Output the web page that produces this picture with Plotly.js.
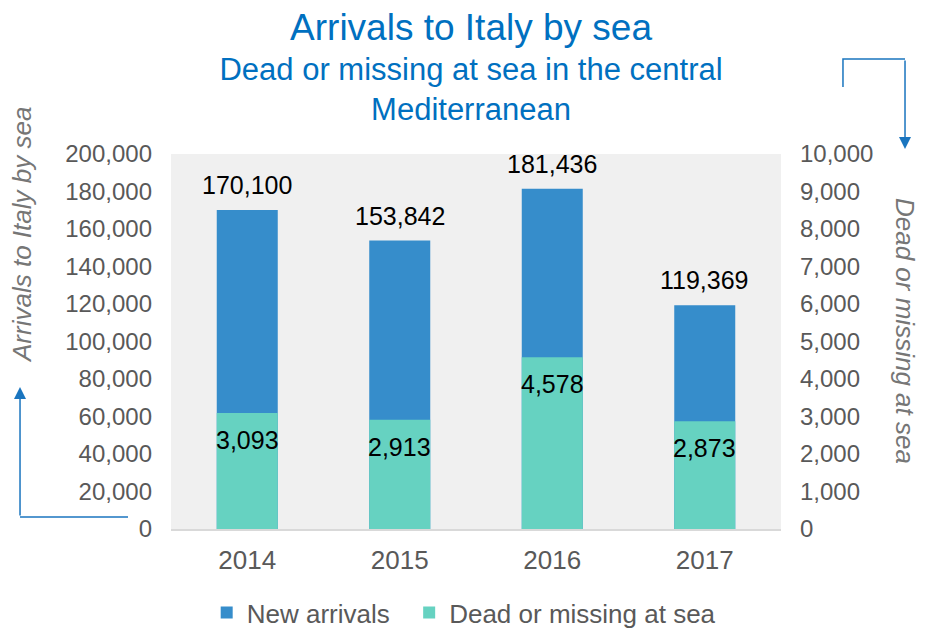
<!DOCTYPE html>
<html>
<head>
<meta charset="utf-8">
<script src="https://cdn.plot.ly/plotly-3.0.1.min.js"></script>
<style>html,body{margin:0;padding:0;background:#fff;}#chart{width:930px;height:629px;}</style>
</head>
<body>
<div id="chart"></div>
<script>
var years = ["2014", "2015", "2016", "2017"];
var newArrivals = [170100, 153842, 181436, 119369];
var deadMissing = [3093, 2913, 4578, 2873];
var leftTicks = [0, 20000, 40000, 60000, 80000, 100000, 120000, 140000, 160000, 180000, 200000];
var rightTicks = [0, 1000, 2000, 3000, 4000, 5000, 6000, 7000, 8000, 9000, 10000];

var FONT = "Liberation Sans, Arial, sans-serif";
var BLUE = "#368DCB", TEAL = "#66D2C1", ARROW = "#1A75BF";
function fmt(v){ return v.toLocaleString("en-US"); }

var traces = [
  {type:"bar", name:"New arrivals\u00a0\u00a0", x:years, y:newArrivals, yaxis:"y",
   marker:{color:BLUE}, width:0.4, hoverinfo:"skip"},
  {type:"bar", name:"Dead or missing at sea", x:years, y:deadMissing, yaxis:"y2",
   marker:{color:TEAL}, width:0.4, hoverinfo:"skip"}
];

var annotations = [];
years.forEach(function(yr,i){
  annotations.push({x:i, y:newArrivals[i], xref:"x", yref:"y", text:fmt(newArrivals[i]),
    showarrow:false, xanchor:"center", yanchor:"middle", yshift:25, font:{family:FONT, size:25, color:"#000"}});
  annotations.push({x:i, y:deadMissing[i], xref:"x", yref:"y2", text:fmt(deadMissing[i]),
    showarrow:false, xanchor:"center", yanchor:"middle", yshift:-27, font:{family:FONT, size:25, color:"#000"}});
});
// axis titles
annotations.push({xref:"paper", yref:"paper", x:-0.2443, y:0.784, xanchor:"center", yanchor:"middle",
  text:"<i>Arrivals to Italy by sea</i>",
  textangle:-90, showarrow:false, font:{family:FONT, size:26, color:"#767676"}});
annotations.push({xref:"paper", yref:"paper", x:1.2033, y:0.528, xanchor:"center", yanchor:"middle",
  text:"<i>Dead or missing at sea</i>",
  textangle:90, showarrow:false, font:{family:FONT, size:26, color:"#767676"}});
// arrow heads
annotations.push({xref:"paper", yref:"paper", x:-0.2475, y:0.3787, ax:0, ay:130, text:"",
  showarrow:true, arrowhead:2, arrowsize:1.6, arrowwidth:1.5, arrowcolor:ARROW});
annotations.push({xref:"paper", yref:"paper", x:1.2033, y:1.0133, ax:0, ay:-90, text:"",
  showarrow:true, arrowhead:2, arrowsize:1.6, arrowwidth:1.5, arrowcolor:ARROW});

var shapes = [
  {type:"line", xref:"paper", yref:"paper", x0:-0.0705, y0:0.032, x1:-0.2475, y1:0.032,
   line:{color:ARROW, width:1.5}},
  {type:"path", xref:"paper", yref:"paper", path:"M1.1016,1.1787 L1.1016,1.2533 L1.2033,1.2533",
   line:{color:ARROW, width:1.5}}
];

var layout = {
  width:930, height:629,
  margin:{l:171, r:149, t:154, b:100, autoexpand:false},
  paper_bgcolor:"#ffffff", plot_bgcolor:"#F0F0F0",
  barmode:"overlay",
  showlegend:true,
  font:{family:FONT, color:"#595959"},
  title:{
    text:"<span style='font-size:37px'>Arrivals to Italy by sea</span><br>Dead or missing at sea in the central<br>Mediterranean",
    font:{family:FONT, size:31, color:"#0070C0"},
    x:0.5065, xref:"container", xanchor:"center",
    y:0.937, yref:"container", yanchor:"top"
  },
  xaxis:{type:"category", range:[-0.5, 3.5], autorange:false, showgrid:false, zeroline:false, showline:true,
    linecolor:"#D9D9D9", linewidth:2,
    ticks:"", tickfont:{family:FONT, size:26, color:"#595959"}, ticklabelstandoff:7, fixedrange:true},
  yaxis:{range:[0,200000], autorange:false, tickvals:leftTicks, ticktext:leftTicks.map(fmt), showgrid:false, zeroline:false,
    ticks:"", tickfont:{family:FONT, size:24, color:"#595959"}, ticklabelstandoff:18, fixedrange:true},
  yaxis2:{range:[0,10000], autorange:false, overlaying:"y", side:"right", tickvals:rightTicks, ticktext:rightTicks.map(fmt),
    showgrid:false, zeroline:false, ticks:"", tickfont:{family:FONT, size:24, color:"#595959"},
    ticklabelstandoff:18, fixedrange:true},
  legend:{orientation:"h", x:0.0585, xanchor:"left", y:-0.16, yanchor:"top",
    font:{family:FONT, size:26, color:"#595959"}, bgcolor:"rgba(0,0,0,0)"},
  annotations:annotations,
  shapes:shapes,
  hovermode:false
};

Plotly.newPlot("chart", traces, layout, {staticPlot:true, displayModeBar:false});
</script>
</body>
</html>
